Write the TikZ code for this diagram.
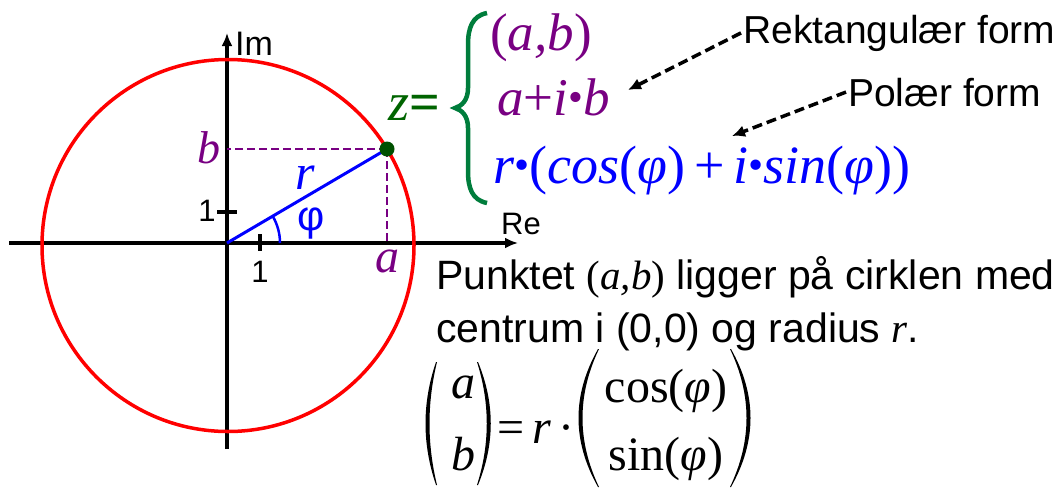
\documentclass[tikz,border=0pt]{standalone}
\usepackage{fontspec}
\setmainfont{Liberation Sans}
\newfontfamily\tnr{Liberation Serif}
\usepackage{tikz}
\usetikzlibrary{arrows.meta}
\definecolor{circred}{RGB}{255,0,0}
\definecolor{lila}{RGB}{120,0,130}
\definecolor{radblue}{RGB}{0,0,255}
\definecolor{zgreen}{RGB}{0,100,0}
\definecolor{bracegreen}{RGB}{0,125,60}
\definecolor{dotgreen}{RGB}{0,80,0}
\newcommand{\fsz}[1]{\fontsize{#1}{#1}\selectfont}
\newcommand{\mi}[1]{{\tnr\itshape #1}}
\newcommand{\up}[1]{{\tnr\upshape #1}}
\newcommand{\pdot}{\raisebox{0.07em}{\scalebox{0.8}{\tnr •}}}
% filled paren: x end, x bulge, y top, y bottom, side (1 left, -1 right)
\newcommand{\vparen}[5]{%
  \fill (#1,#3) .. controls (#2,{#3+(#4-#3)/3}) and (#2,{#3+2*(#4-#3)/3}) .. (#1,#4)
     -- ({#1+#5},#4) .. controls ({#2+5*#5},{#3+2*(#4-#3)/3}) and ({#2+5*#5},{#3+(#4-#3)/3}) .. ({#1+#5},#3) -- cycle;}
\tikzset{
  axis/.style  ={line width=3.5pt, -{Latex[length=13pt,width=11pt]}},
  tick/.style  ={line width=3.5pt},
  circ/.style  ={draw=circred, line width=3.5pt},
  guide/.style ={draw=lila, line width=2.2pt, dash pattern=on 8pt off 4pt},
  radl/.style  ={draw=radblue, line width=3pt},
  lbl/.style   ={inner sep=0pt, font=\fsz{31}},
  form/.style  ={inner sep=0pt, anchor=base west, font=\fsz{53}},
  txt/.style   ={inner sep=2pt, anchor=base west, font=\fsz{41}},
  dar/.style   ={line width=3.5pt, dash pattern=on 10pt off 5pt, -{Latex[length=13pt,width=12pt]}},
}
\begin{document}
\begin{tikzpicture}[x=1pt,y=1pt]
\useasboundingbox (0,0) rectangle (1062,-488);
\coordinate (O) at (227,-243);
\coordinate (P) at (387,-149);
\coordinate (xl) at (9,-243);
\coordinate (xr) at (518,-243);
\coordinate (yb) at (227,-449);
\coordinate (yt) at (227,-33);

% axes and ticks
\draw[axis] (xl) -- (xr);
\draw[axis] (yb) -- (yt);
\draw[tick] (260,-234) -- (260,-251);
\draw[tick] (217,-212) -- (237,-212);
\node[lbl,font=\fsz{34}] (im) at (254,-44) {Im};
\node[lbl] (re) at (521,-224) {Re};
\node[lbl] (xone) at (260,-272) {1};
\node[lbl] (yone) at (207,-211) {1};

% circle, radius and projections
\draw[circ] (228,-245.5) circle[radius=186];
\draw[guide] (P) -- (P |- O);
\draw[guide] (P) -- (P -| O);
\draw[radl] (O) -- (P);
\draw[radblue,line width=2.5pt] (O) ++(53,0) arc[start angle=0,end angle=30.4,radius=53];
\fill[dotgreen] (P) circle[radius=7.5];
\node[lbl,lila,font=\fsz{46}] (lb) at (209,-148) {\mi{b}};
\node[lbl,lila,font=\fsz{48}] (la) at (387,-261) {\mi{a}};
\node[lbl,radblue,font=\fsz{50}] (lr) at (305,-178) {\mi{r}};
\node[lbl,radblue,font=\fsz{42}] (lphi) at (311,-224) {φ};

% z with its three forms
\node[form,zgreen,font=\fsz{54}] (z) at (388,-120) {\mi{z}{\tnr\bfseries =}};
\draw[bracegreen,line width=4.5pt] (487,-13) .. controls (472,-16) and (468,-28) .. (468,-45) -- (468,-88)
   .. controls (468,-100) and (462,-106) .. (455,-108) .. controls (462,-110) and (468,-116) .. (468,-128)
   -- (468,-171) .. controls (468,-188) and (472,-200) .. (487,-203);
\node[form,lila] (ab) at (490,-50) {\up{(}\mi{a,b}\up{)}};
\node[form,lila] (aib) at (497,-115) {\mi{a}\up{+}\mi{i}\pdot\mi{b}};
\node[form,radblue,font=\fsz{54}] (pol) at (493,-183) {\mi{r}\pdot\up{(}\mi{cos}\up{(}\mi{φ}\up{)\,+\,}\mi{i}\pdot\mi{sin}\up{(}\mi{φ}\up{))}};

\node[txt,font=\fsz{39}] (rekt) at (741,-43) {Rektangulær form};
\node[txt,font=\fsz{39}] (polar) at (846,-106) {Polær form};
\coordinate (rtip) at (628,-90);
\coordinate (ptip) at (732,-136);
\draw[dar] (rekt.west) -- (rtip);
\draw[dar] (polar.west) -- (ptip);

% explanation
\node[txt] (l1) at (434,-289) {Punktet \up{(}\mi{a,b}\up{)} ligger på cirklen med};
\node[txt] (l2) at (434,-342) {centrum i (0,0) og radius \mi{r}.};

% vector form
\vparen{436}{422}{-362}{-485}{1}
\vparen{478}{495}{-362}{-485}{-1}
\vparen{598}{572}{-349}{-487}{1}
\vparen{731}{757}{-349}{-487}{-1}
\node[form,anchor=base,font=\fsz{48}] (va) at (463,-398) {\mi{a}};
\node[form,anchor=base,font=\fsz{48}] (vb) at (463,-470) {\mi{b}};
\node[form,anchor=base,font=\fsz{48}] (eq) at (536,-443) {\up{=}\,\mi{r}\,\up{·}};
\node[form,anchor=base,font=\fsz{48}] (vc) at (666,-402) {\up{cos(}\mi{φ}\up{)}};
\node[form,anchor=base,font=\fsz{48}] (vs) at (666,-470) {\up{sin(}\mi{φ}\up{)}};
\end{tikzpicture}
\end{document}
